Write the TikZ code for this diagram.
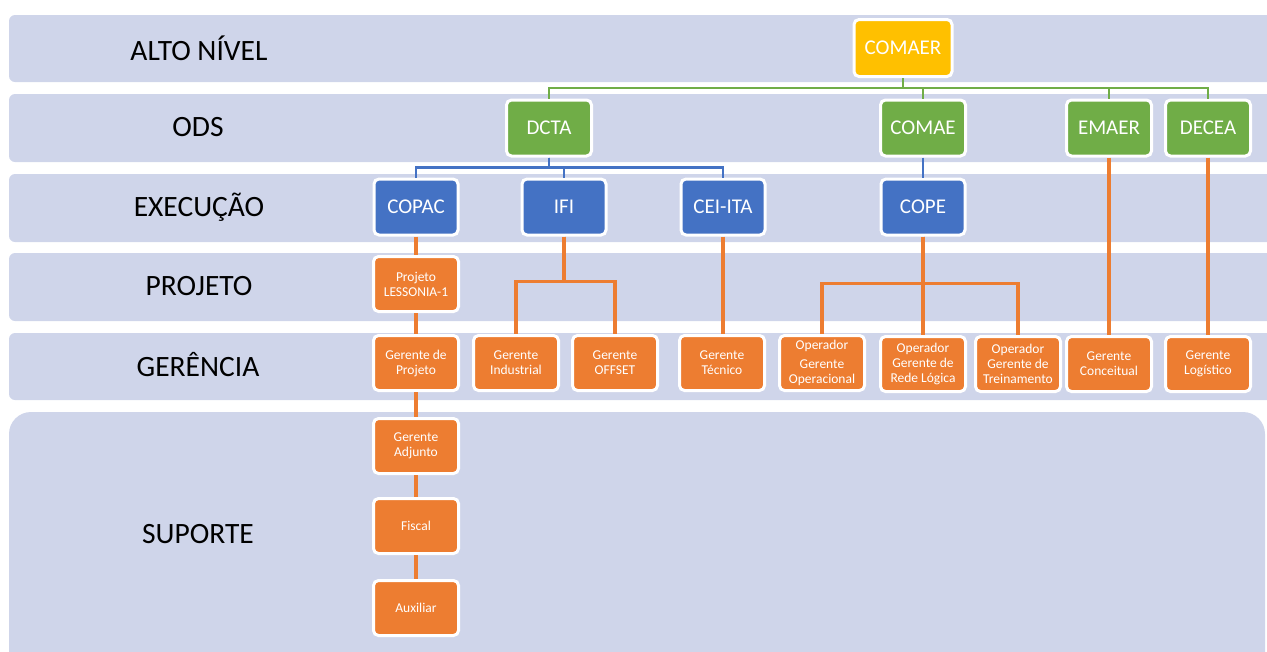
\documentclass[tikz,border=0pt]{standalone}
\usepackage{fontspec}
\setmainfont{Carlito}
\definecolor{bandfill}{HTML}{CFD5EA}
\definecolor{chieffill}{HTML}{FFC000}
\definecolor{odsfill}{HTML}{70AD47}
\definecolor{execfill}{HTML}{4472C4}
\definecolor{unitfill}{HTML}{ED7D31}
\newcommand{\levelsize}{\fontsize{29.5}{34}\selectfont}
\newcommand{\headsize}{\fontsize{21}{25}\selectfont}
\newcommand{\unitsize}{\fontsize{13.5}{15}\selectfont}
\tikzset{
 band/.style={fill=bandfill,rounded corners=6pt},
 level/.style={font=\levelsize,text=black,inner sep=0pt},
 box/.style={draw=white,line width=3pt,rounded corners=5pt,text=white,align=center,inner sep=2pt},
 chiefbox/.style={box,fill=chieffill,font=\headsize,minimum width=98pt,minimum height=57pt},
 odsbox/.style={box,fill=odsfill,font=\headsize,minimum width=85pt,minimum height=56pt},
 execbox/.style={box,fill=execfill,font=\headsize,minimum width=84pt,minimum height=56pt},
 unitbox/.style={box,fill=unitfill,font=\unitsize,minimum width=85pt,minimum height=55pt},
 odslink/.style={draw=odsfill,line width=2.8pt},
 execlink/.style={draw=execfill,line width=2.5pt},
 unitlink/.style={draw=unitfill,line width=3.2pt},
}

\begin{document}
\begin{tikzpicture}[x=1pt,y=-1pt]

\useasboundingbox (0,0) rectangle (1267,651);
\begin{scope}
  \clip (0,0) rectangle (1267,651);
  \foreach \t/\b in {15/82,94/162,174/242,253/321,333/400}
    \fill[band] (9,\t) rectangle (1290,\b);
  \fill[band,rounded corners=22pt] (9,412) rectangle (1265,680);
\end{scope}

\node[level] (lalto) at (199,48) {ALTO NÍVEL};
\node[level] (lods) at (198,127) {ODS};
\node[level] (lexec) at (199,207) {EXECUÇÃO};
\node[level] (lproj) at (199,286) {PROJETO};
\node[level] (lger) at (198,365) {GERÊNCIA};
\node[level] (lsup) at (198,534) {SUPORTE};

\node[chiefbox] (comaer) at (903,48) {COMAER};

\node[odsbox] (dcta) at (549,128) {DCTA};
\node[odsbox] (comae) at (923,128) {COMAE};
\node[odsbox] (emaer) at (1109,128) {EMAER};
\node[odsbox] (decea) at (1208,128) {DECEA};

\node[execbox] (copac) at (416,207) {COPAC};
\node[execbox] (ifi) at (564,207) {IFI};
\node[execbox] (ceiita) at (723,207) {CEI-ITA};
\node[execbox] (cope) at (923,207) {COPE};

\node[unitbox] (lessonia) at (416,284) {Projeto\\LESSONIA-1};
\node[unitbox] (gproj) at (416,363) {Gerente de\\Projeto};
\node[unitbox] (gind) at (516,363) {Gerente\\Industrial};
\node[unitbox] (goff) at (615,363) {Gerente\\OFFSET};
\node[unitbox] (gtec) at (722,363) {Gerente\\Técnico};
\node[unitbox] (gop) at (822,363) {Operador\\[4pt]Gerente\\Operacional};
\node[unitbox] (grede) at (923,364) {Operador\\Gerente de\\Rede Lógica};
\node[unitbox] (gtrein) at (1018,364) {Operador\\Gerente de\\Treinamento};
\node[unitbox] (gconc) at (1109,364) {Gerente\\Conceitual};
\node[unitbox] (glog) at (1208,364) {Gerente\\Logístico};

\node[unitbox] (gadj) at (416,446) {Gerente\\Adjunto};
\node[unitbox] (fiscal) at (416,526) {Fiscal};
\node[unitbox] (aux) at (416,608) {Auxiliar};

\foreach \n in {dcta,comae,emaer,decea}
  \draw[odslink] (comaer.south) -- ++(0,10) -| (\n.north);
\foreach \n in {copac,ifi,ceiita}
  \draw[execlink] (dcta.south) -- ++(0,10) -| (\n.north);
\draw[execlink] (comae) -- (cope);

\draw[unitlink] (copac) -- (lessonia);
\draw[unitlink] (lessonia) -- (gproj);
\draw[unitlink] (gproj) -- (gadj);
\draw[unitlink] (gadj) -- (fiscal);
\draw[unitlink] (fiscal) -- (aux);
\foreach \n in {gind,goff}
  \draw[unitlink] (ifi.south) -- ++(0,45) -| (\n.north);
\draw[unitlink] (ceiita.south) -- (ceiita.south |- gtec.north);
\foreach \n in {gop,grede,gtrein}
  \draw[unitlink] (cope.south) -- ++(0,47) -| (\n.north);
\draw[unitlink] (emaer) -- (gconc);
\draw[unitlink] (decea) -- (glog);

\end{tikzpicture}
\end{document}
